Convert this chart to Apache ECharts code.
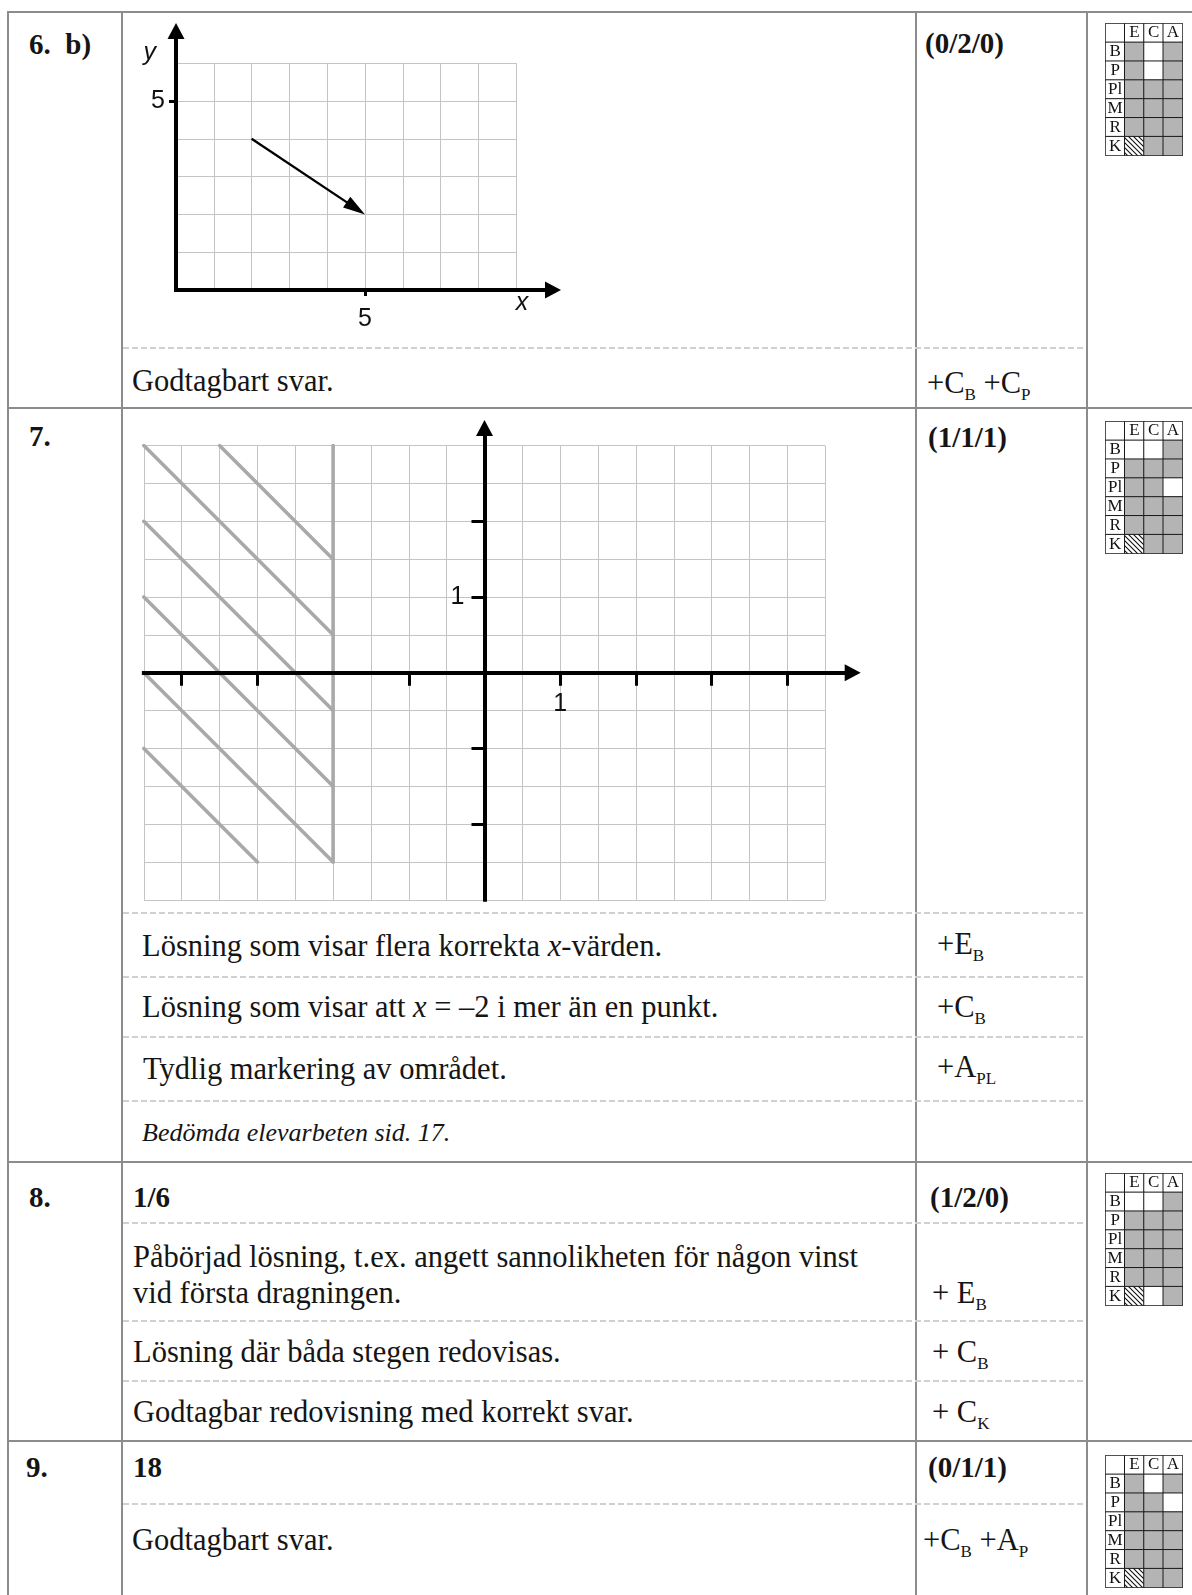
<!DOCTYPE html>
<html>
<head>
<meta charset="utf-8">
<title>Bedömningsanvisningar 6 b – 9</title>
<script src="https://cdn.jsdelivr.net/npm/echarts@6.0.0/dist/echarts.min.js"></script>
<style>
  html, body { margin: 0; padding: 0; background: #fff; }
  #page { position: relative; width: 1192px; height: 1595px; overflow: hidden;
          font-family: "Liberation Serif", "DejaVu Serif", serif; color: #151515; }
  .t { position: absolute; white-space: nowrap; font-size: 30.5px; line-height: 1; transform: translateY(-50%); }
  .b { font-weight: bold; font-size: 29px; }
  .i { font-style: italic; font-size: 26px; }
  .s { font-size: 17px; position: relative; top: 7px; }
  .hl { position: absolute; left: 7px; right: 0; height: 2px; background: #8c8c8c; }
  .vl { position: absolute; top: 11px; bottom: 0; width: 2px; background: #8c8c8c; }
  .dl { position: absolute; left: 123px; width: 963px; height: 2px;
        background: repeating-linear-gradient(to right, #d0d0d0 0 6px, transparent 6px 9px); }
  .ch { position: absolute; }
</style>
</head>
<body>
<div id="page">
  <!-- table rules -->
  <div class="hl" style="top:11px"></div>
  <div class="hl" style="top:407px"></div>
  <div class="hl" style="top:1161px"></div>
  <div class="hl" style="top:1440px"></div>
  <div class="vl" style="left:7px"></div>
  <div class="vl" style="left:121px"></div>
  <div class="vl" style="left:915px"></div>
  <div class="vl" style="left:1086px"></div>
  <div class="dl" style="top:347px"></div>
  <div class="dl" style="top:912px"></div>
  <div class="dl" style="top:976px"></div>
  <div class="dl" style="top:1036px"></div>
  <div class="dl" style="top:1100px"></div>
  <div class="dl" style="top:1222px"></div>
  <div class="dl" style="top:1320px"></div>
  <div class="dl" style="top:1380px"></div>
  <div class="dl" style="top:1503px"></div>

  <!-- 6 b -->
  <div class="t b" style="left:29px;top:44px">6.&nbsp; b)</div>
  <div class="t b" style="left:925px;top:43px">(0/2/0)</div>
  <div class="t" style="left:132px;top:381px">Godtagbart svar.</div>
  <div class="t" style="left:927px;top:383px">+C<span class="s">B</span> +C<span class="s">P</span></div>

  <!-- 7 -->
  <div class="t b" style="left:29px;top:436px">7.</div>
  <div class="t b" style="left:928px;top:437px">(1/1/1)</div>
  <div class="t" style="left:142px;top:946px">Lösning som visar flera korrekta <i>x</i>-värden.</div>
  <div class="t" style="left:937px;top:944px">+E<span class="s">B</span></div>
  <div class="t" style="left:142px;top:1007px">Lösning som visar att <i>x</i> = –2 i mer än en punkt.</div>
  <div class="t" style="left:937px;top:1007px">+C<span class="s">B</span></div>
  <div class="t" style="left:143px;top:1069px">Tydlig markering av området.</div>
  <div class="t" style="left:937px;top:1067px">+A<span class="s">PL</span></div>
  <div class="t i" style="left:142px;top:1133px">Bedömda elevarbeten sid. 17.</div>

  <!-- 8 -->
  <div class="t b" style="left:29px;top:1197px">8.</div>
  <div class="t b" style="left:133px;top:1197px">1/6</div>
  <div class="t b" style="left:930px;top:1197px">(1/2/0)</div>
  <div class="t" style="left:133px;top:1257px">Påbörjad lösning, t.ex. angett sannolikheten för någon vinst</div>
  <div class="t" style="left:133px;top:1293px">vid första dragningen.</div>
  <div class="t" style="left:932px;top:1293px">+ E<span class="s">B</span></div>
  <div class="t" style="left:133px;top:1352px">Lösning där båda stegen redovisas.</div>
  <div class="t" style="left:932px;top:1352px">+ C<span class="s">B</span></div>
  <div class="t" style="left:133px;top:1412px">Godtagbar redovisning med korrekt svar.</div>
  <div class="t" style="left:932px;top:1412px">+ C<span class="s">K</span></div>

  <!-- 9 -->
  <div class="t b" style="left:26px;top:1467px">9.</div>
  <div class="t b" style="left:133px;top:1467px">18</div>
  <div class="t b" style="left:928px;top:1467px">(0/1/1)</div>
  <div class="t" style="left:132px;top:1540px">Godtagbart svar.</div>
  <div class="t" style="left:923px;top:1540px">+C<span class="s">B</span> +A<span class="s">P</span></div>

  <!-- charts -->
  <div id="c6" class="ch" style="left:122px;top:12px;width:794px;height:336px"></div>
  <div id="c7" class="ch" style="left:122px;top:408px;width:794px;height:505px"></div>
  <div id="s6" class="ch" style="left:1105px;top:23px;width:78px;height:133px"></div>
  <div id="s7" class="ch" style="left:1105px;top:421px;width:78px;height:133px"></div>
  <div id="s8" class="ch" style="left:1105px;top:1173px;width:78px;height:133px"></div>
  <div id="s9" class="ch" style="left:1105px;top:1455px;width:78px;height:133px"></div>
</div>

<script>
// ---------- data ----------
// 6 b) coordinate grid and the drawn vector (grid units)
const grid6X = [0, 9];
const grid6Y = [0, 6];
const ticks6 = [5];
const vector6 = [[2, 4, 5, 2]]; // x0, y0, x1, y1

// 7: grid -4.5..4.5 / -3..3, lines every 0.5
const grid7X = [-4.5, 4.5];
const grid7Y = [-3, 3];
const step7 = 0.5;
const ticks7X = [-4, -3, -1, 1, 2, 3, 4]; // tick at -2 lies under the boundary line
const ticks7Y = [-2, -1, 1, 2];
const labels7 = [1];
const boundary7 = [[-2, 3], [-2, -2.5]];
const hatch7 = [
  [[-4.5, 3], [-2, 0.5]],
  [[-3.5, 3], [-2, 1.5]],
  [[-4.5, 2], [-2, -0.5]],
  [[-4.5, 1], [-2, -1.5]],
  [[-4.5, 0], [-2, -2.5]],
  [[-4.5, -1], [-3, -2.5]]
];

// score matrices: 0 = white, 1 = grey, 2 = hatched
const scoreCols = ['E', 'C', 'A'];
const scoreRows = ['B', 'P', 'Pl', 'M', 'R', 'K'];
const score6b = [[1, 0, 1], [1, 0, 1], [1, 1, 1], [1, 1, 1], [1, 1, 1], [2, 1, 1]];
const score7 = [[0, 0, 1], [1, 1, 1], [1, 1, 0], [1, 1, 1], [1, 1, 1], [2, 1, 1]];
const score8 = [[0, 0, 1], [1, 1, 1], [1, 1, 1], [1, 1, 1], [1, 1, 1], [2, 0, 1]];
const score9 = [[1, 0, 1], [1, 1, 0], [1, 1, 1], [1, 1, 1], [1, 1, 1], [2, 1, 1]];

// ---------- common styles ----------
const SANS = '"Liberation Sans", Arial, sans-serif';
const SERIF = '"Liberation Serif", serif';
const gridLine = { color: '#c4c4c4', width: 1 };
const axisBlack = { color: '#000', width: 4, cap: 'square' };
const ARROW = [17, 16];
const hidden = { show: false };
const tickStyle = { color: '#000', width: 3 };
const labelStyle = { fontFamily: SANS, fontSize: 25, color: '#111' };

// hidden helper axis for a grid that only carries one visible axis
function helperAxis(gridIndex) {
  return { gridIndex: gridIndex, type: 'value', min: 0, max: 1, show: false };
}

// ---------- 6 b ----------
const c6 = echarts.init(document.getElementById('c6'));
const cell6 = 37.8;
const org6 = [54, 278];     // origin in the chart box
const tip6 = [439, 11];     // arrow tips (x-axis x, y-axis y)
const x6Max = (tip6[0] - ARROW[1] / 2 - org6[0]) / cell6;
const y6Max = (org6[1] - tip6[1] - ARROW[1] / 2) / cell6;

c6.setOption({
  animation: false,
  grid: [
    { left: org6[0], top: org6[1] - grid6Y[1] * cell6, width: grid6X[1] * cell6, height: grid6Y[1] * cell6,
      outerBoundsMode: 'none' },
    { left: org6[0], top: org6[1] - y6Max * cell6, width: x6Max * cell6, height: y6Max * cell6,
      outerBoundsMode: 'none' }
  ],
  xAxis: [
    { gridIndex: 0, type: 'value', min: grid6X[0], max: grid6X[1], interval: 1,
      axisLine: hidden, axisTick: hidden, axisLabel: hidden, splitLine: { lineStyle: gridLine } },
    { gridIndex: 1, type: 'value', min: 0, max: x6Max, z: 10,
      axisLine: { onZero: false, lineStyle: axisBlack, symbol: ['none', 'triangle'], symbolSize: ARROW },
      axisTick: { show: true, customValues: ticks6, length: 6, lineStyle: tickStyle },
      axisLabel: Object.assign({ customValues: ticks6, margin: 17 }, labelStyle),
      splitLine: hidden,
      name: 'x', nameLocation: 'end', nameGap: -31,
      nameTextStyle: { fontFamily: SANS, fontStyle: 'italic', fontSize: 25, color: '#111',
                       align: 'center', verticalAlign: 'top', padding: [1, 0, 0, 0] } }
  ],
  yAxis: [
    { gridIndex: 0, type: 'value', min: grid6Y[0], max: grid6Y[1], interval: 1,
      axisLine: hidden, axisTick: hidden, axisLabel: hidden, splitLine: { lineStyle: gridLine } },
    { gridIndex: 1, type: 'value', min: 0, max: y6Max, z: 10,
      axisLine: { onZero: false, lineStyle: axisBlack, symbol: ['none', 'triangle'], symbolSize: ARROW },
      axisTick: { show: true, customValues: ticks6, length: 7, lineStyle: tickStyle },
      axisLabel: Object.assign({ customValues: ticks6, margin: 11 }, labelStyle),
      splitLine: hidden,
      name: 'y', nameLocation: 'end', nameGap: -22,
      nameTextStyle: { fontFamily: SANS, fontStyle: 'italic', fontSize: 25, color: '#111',
                       align: 'right', verticalAlign: 'middle', padding: [0, 20, 0, 0] } }
  ],
  series: [{
    type: 'custom', xAxisIndex: 0, yAxisIndex: 0, silent: true, z: 5,
    data: vector6,
    renderItem: function (params, api) {
      const p0 = api.coord([api.value(0), api.value(1)]);
      const p1 = api.coord([api.value(2), api.value(3)]);
      const a = Math.atan2(p1[1] - p0[1], p1[0] - p0[0]);
      const L = 22, W = 6.5;
      const bx = p1[0] - L * Math.cos(a), by = p1[1] - L * Math.sin(a);
      const nx = -Math.sin(a) * W, ny = Math.cos(a) * W;
      return { type: 'group', children: [
        { type: 'line', shape: { x1: p0[0], y1: p0[1], x2: bx + 3 * Math.cos(a), y2: by + 3 * Math.sin(a) },
          style: { stroke: '#000', lineWidth: 2.3 } },
        { type: 'polygon', shape: { points: [p1, [bx + nx, by + ny], [bx - nx, by - ny]] },
          style: { fill: '#000' } }
      ] };
    }
  }]
});

// ---------- 7 ----------
const c7 = echarts.init(document.getElementById('c7'));
const unit7 = 75.7;            // px per unit (two grid cells)
const org7 = [362.5, 264.7];
const tip7 = [738.7, 12];
const x7Max = (tip7[0] - ARROW[1] / 2 - org7[0]) / unit7;
const y7Max = (org7[1] - tip7[1] - ARROW[1] / 2) / unit7;
const left7 = org7[0] + grid7X[0] * unit7;
const bottom7 = org7[1] - grid7Y[0] * unit7;
const top7 = org7[1] - grid7Y[1] * unit7;

const hatchStyle = { color: '#a9a9a9', width: 3.6, cap: 'round' };
const hatchSeries = hatch7.concat([boundary7]).map(function (seg) {
  return { type: 'line', xAxisIndex: 0, yAxisIndex: 0, data: seg, symbol: 'none',
           silent: true, z: 2, lineStyle: hatchStyle };
});

c7.setOption({
  animation: false,
  grid: [
    // squared paper
    { left: left7, top: top7, width: (grid7X[1] - grid7X[0]) * unit7, height: bottom7 - top7,
      outerBoundsMode: 'none' },
    // x-axis strip: its bottom edge is y = 0
    { left: left7, top: org7[1] - 20, width: (x7Max - grid7X[0]) * unit7, height: 20,
      outerBoundsMode: 'none' },
    // y-axis strip: its left edge is x = 0
    { left: org7[0], top: org7[1] - y7Max * unit7, width: 20, height: (y7Max - grid7Y[0]) * unit7,
      outerBoundsMode: 'none' }
  ],
  xAxis: [
    { gridIndex: 0, type: 'value', min: grid7X[0], max: grid7X[1], interval: step7,
      axisLine: hidden, axisTick: hidden, axisLabel: hidden, splitLine: { lineStyle: gridLine } },
    { gridIndex: 1, type: 'value', position: 'bottom', min: grid7X[0], max: x7Max, z: 10,
      axisLine: { onZero: false, lineStyle: axisBlack, symbol: ['none', 'triangle'], symbolSize: ARROW },
      axisTick: { show: true, customValues: ticks7X, length: 13, lineStyle: tickStyle },
      axisLabel: Object.assign({ customValues: labels7, margin: 19 }, labelStyle),
      splitLine: hidden },
    helperAxis(2)
  ],
  yAxis: [
    { gridIndex: 0, type: 'value', min: grid7Y[0], max: grid7Y[1], interval: step7,
      axisLine: hidden, axisTick: hidden, axisLabel: hidden, splitLine: { lineStyle: gridLine } },
    helperAxis(1),
    { gridIndex: 2, type: 'value', position: 'left', min: grid7Y[0], max: y7Max, z: 10,
      axisLine: { onZero: false, lineStyle: axisBlack, symbol: ['none', 'triangle'], symbolSize: ARROW },
      axisTick: { show: true, customValues: ticks7Y, length: 13, lineStyle: tickStyle },
      axisLabel: Object.assign({ customValues: labels7, margin: 20 }, labelStyle),
      splitLine: hidden }
  ],
  series: hatchSeries
});

// ---------- score grids ----------
const hatchCanvas = document.createElement('canvas');
hatchCanvas.width = hatchCanvas.height = 5;
(function () {
  const g = hatchCanvas.getContext('2d');
  g.fillStyle = '#fff';
  g.fillRect(0, 0, 5, 5);
  g.strokeStyle = '#111';
  g.lineWidth = 1.1;
  g.beginPath();
  g.moveTo(-1, -1); g.lineTo(6, 6);
  g.moveTo(-1, 4); g.lineTo(1, 6);
  g.moveTo(4, -1); g.lineTo(6, 1);
  g.stroke();
})();
const fills = ['#ffffff', '#b4b4b4', { image: hatchCanvas, repeat: 'repeat' }];

function scoreChart(id, cells) {
  const chart = echarts.init(document.getElementById(id));
  const lbl = function (txt) {
    return { show: true, formatter: txt, fontFamily: SERIF, fontSize: 17, color: '#111' };
  };
  const data = [{ value: [0, 0, 0] }];
  scoreCols.forEach(function (c, i) {
    data.push({ value: [i + 1, 0, 0], label: lbl(c) });
  });
  scoreRows.forEach(function (r, j) {
    data.push({ value: [0, j + 1, 0], label: lbl(r) });
    cells[j].forEach(function (v, i) {
      data.push({ value: [i + 1, j + 1, v], itemStyle: { color: fills[v] } });
    });
  });
  chart.setOption({
    animation: false,
    grid: { left: 0.5, right: 0.5, top: 0.5, bottom: 0.5, outerBoundsMode: 'none' },
    xAxis: { type: 'category', data: [''].concat(scoreCols), show: false },
    yAxis: { type: 'category', data: [''].concat(scoreRows), inverse: true, show: false },
    series: [{
      type: 'heatmap', silent: true, data: data,
      itemStyle: { color: '#fff', borderColor: '#1a1a1a', borderWidth: 1 },
      label: { show: false },
      emphasis: { disabled: true }
    }]
  });
}
scoreChart('s6', score6b);
scoreChart('s7', score7);
scoreChart('s8', score8);
scoreChart('s9', score9);
</script>
</body>
</html>
